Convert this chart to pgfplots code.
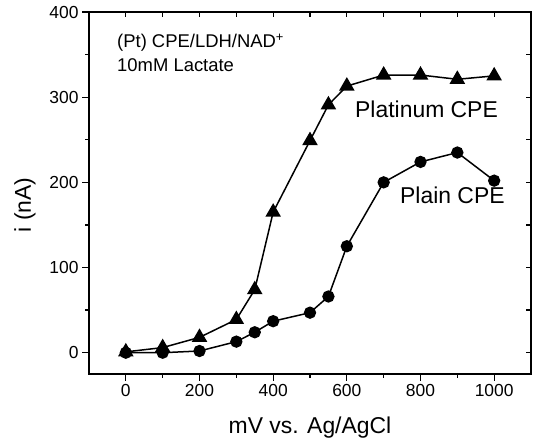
\documentclass[border=0pt]{standalone}
\usepackage{fontspec}
\setmainfont{Liberation Sans}
\usepackage{pgfplots}
\pgfplotsset{compat=1.18}
\begin{document}
\begin{tikzpicture}
\pgfplotsset{
  common/.style={
    at={(0,0)}, anchor=south west, scale only axis,
    width=442bp, height=362bp,
    xmin=-100, xmax=1100, ymin=-25, ymax=400,
    axis line style={line width=1.7bp},
    tick style={line width=1.3bp, black},
  }
}
\begin{axis}[common,
  xtick={0,200,...,1000}, ytick={0,100,...,400},
  minor x tick num=1, minor y tick num=1,
  xtick pos=left, ytick pos=left, tick align=outside,
  major tick length=7bp, minor tick length=4bp,
  tick label style={font=\fontsize{17.5}{21}\selectfont},
  /pgf/number format/assume math mode=true,
  /pgf/number format/1000 sep={},
]
\addplot[line width=1.5bp, mark=triangle*, mark size=7.5bp, mark options={solid}] coordinates {
(0,1) (100,6) (200,18) (300,39) (350,74) (400,165) (500,249) (550,291) (600,313) (700,326) (800,326) (900,321) (1000,325)
};
\addplot[line width=1.5bp, mark=*, mark size=5.4bp] coordinates {
(0,0) (100,0) (200,2) (300,13) (350,24) (400,37) (500,47) (550,66) (600,125) (700,200) (800,224) (900,235) (1000,202)
};
\end{axis}
\begin{axis}[common,
  xtick={-100,0,...,1100}, ytick={-25,0,50,...,400},
  xticklabels={}, yticklabels={},
  xtick pos=right, ytick pos=right, tick align=inside,
  major tick length=5bp,
]
\end{axis}
\node[anchor=base west, inner sep=0, font=\fontsize{18.5}{22}\selectfont] at (28bp,326bp) {(Pt) CPE/LDH/NAD\textsuperscript{+}};
\node[anchor=base west, inner sep=0, font=\fontsize{18.5}{22}\selectfont] at (28bp,302bp) {10mM Lactate};
\node[anchor=base west, inner sep=0, font=\fontsize{23}{26}\selectfont] at (266bp,256bp) {Platinum CPE};
\node[anchor=base west, inner sep=0, font=\fontsize{23}{26}\selectfont] at (311bp,170bp) {Plain CPE};
\node[anchor=base, inner sep=0, font=\fontsize{23}{26}\selectfont] at (221bp,-59bp) {mV vs. Ag/AgCl};
\node[anchor=base, inner sep=0, rotate=90, font=\fontsize{23}{26}\selectfont] at (-58bp,169bp) {i (nA)};
\pgfresetboundingbox
\path[use as bounding box] (-89bp,-65bp) rectangle (446bp,374bp);
\end{tikzpicture}
\end{document}
